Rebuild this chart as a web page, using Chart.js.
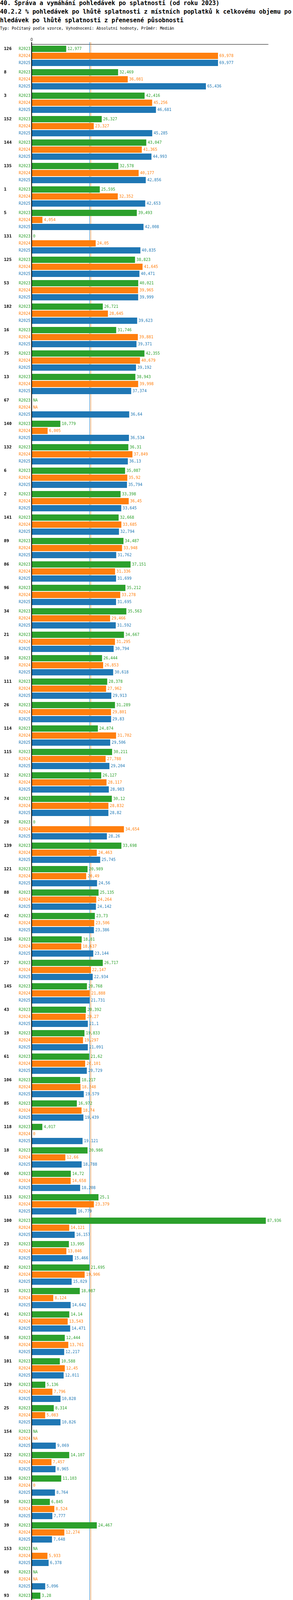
<!DOCTYPE html>
<html>
<head>
  <meta charset="utf-8">
  <title>40.2.2 Pohledávky po splatnosti</title>
  <script src="https://cdn.jsdelivr.net/npm/chart.js"></script>
  <style>
    body { margin: 0; width: 750px; height: 5334px; overflow: hidden; background: #fff;
           font-family: 'DejaVu Sans Mono', monospace; position: relative; }
    .t { position: absolute; left: 0; width: 750px; color: #000; }
    #title { top: -3px; font-size: 15.3px; line-height: 22px; word-break: break-all; font-weight: bold; }
    #sub { top: 67px; font-size: 10px; line-height: 12px; }
    #wrap { position: absolute; left: 0; top: 89px; }
    .lg { position: absolute; font-size: 10px; line-height: 12px; white-space: nowrap; }
  </style>
</head>
<body>
  <div id="title" class="t">
    <div>40. Správa a vymáhání pohledávek po splatnosti (od roku 2023)</div>
    <div>40.2.2 % pohledávek po lhůtě splatnosti z místních poplatků k celkovému objemu pohledávek po lhůtě splatnosti z přenesené působnosti</div>
  </div>
  <div id="sub" class="t">Typ: Počítaný podle vzorce, Vyhodnocení: Absolutní hodnoty, Průměr: Medián</div>
  <div id="wrap"><canvas id="chart" width="750" height="5126"></canvas></div>
  <div id="legend"></div>

  <script>
    const groups = ['126','8','3','152','144','135','1','5','131','125',
      '53','182','16','75','13','67','140','132','6','2',
      '141','89','86','96','34','21','10','111','26','114',
      '115','12','74','28','139','121','88','42','136','27',
      '145','43','19','61','106','85','118','18','60','113',
      '100','23','82','15','41','58','101','129','25','154',
      '122','138','50','39','153','69','93','155','7','68',
      '130','14','51','56','9','112','90','33','146','134',
      '151','76','52','84','147'];

    const r2023 = [12.977, 32.469, 42.416, 26.327, 43.047, 32.578, 25.595, 39.493, 0, 38.823,
      40.021, 26.721, 31.746, 42.355, 38.943, null, 10.779, 36.31, 35.087, 33.398,
      32.668, 34.487, 37.151, 35.212, 35.563, 34.667, 26.444, 28.378, 31.289, 24.874,
      30.211, 26.127, 30.12, 0, 33.698, 20.989, 25.135, 23.73, 18.81, 26.717,
      20.768, 20.392, 19.833, 21.62, 18.217, 16.972, 4.017, 20.986, 14.72, 25.1,
      87.936, 13.995, 21.695, 18.087, 14.14, 12.444, 10.588, 5.136, 8.314, null,
      14.107, 11.103, 6.845, 24.467, null, null, 3.28, null, 3.474, null,
      9.406, 3.011, 2.057, 3.037, 0.822, 0.015, 0.039, 51.153, 0, 0,
      12.383, 25.511, null, null, 0];

    const r2024 = [69.978, 36.081, 45.256, 23.327, 41.365, 40.177, 32.352, 4.054, 24.05, 41.645,
      39.965, 28.645, 39.881, 40.679, 39.998, null, 6.005, 37.849, 35.92, 36.45,
      33.685, 33.948, 31.336, 33.278, 29.466, 31.295, 26.853, 27.962, 29.801, 31.702,
      27.788, 28.117, 28.832, 34.654, 24.463, 20.49, 24.264, 23.506, 18.637, 22.147,
      21.888, 20.27, 19.297, 20.101, 18.348, 18.74, 0, 12.66, 14.658, 23.379,
      14.121, 13.046, 19.906, 8.124, 13.543, 13.761, 12.45, 7.796, 5.083, null,
      7.457, 0, 8.524, 12.274, 5.933, null, 1.093, null, 3.238, null,
      null, 2.371, 1.397, 2.389, null, 0.007, 0.117, 53.15, 0, 0,
      9.605, null, null, null, 25.579];

    const r2025 = [69.977, 65.436, 46.681, 45.285, 44.993, 42.856, 42.653, 42.008, 40.835, 40.471,
      39.999, 39.623, 39.371, 39.192, 37.374, 36.64, 36.534, 36.13, 35.794, 33.645,
      32.794, 31.762, 31.699, 31.695, 31.592, 30.794, 30.618, 29.913, 29.83, 29.506,
      29.204, 28.983, 28.82, 28.26, 25.745, 24.56, 24.142, 23.386, 23.144, 22.934,
      21.731, 21.1, 21.091, 20.729, 19.579, 19.439, 19.121, 18.788, 18.208, 16.779,
      16.157, 15.466, 15.029, 14.642, 14.471, 12.217, 12.011, 10.828, 10.826, 9.069,
      8.965, 8.764, 7.777, 7.648, 6.378, 5.096, 4.44, 3.433, 2.965, 2.915,
      2.064, 1.959, 1.846, 1.143, 0.935, 0.573, 0.107, 0, 0, 0,
      0, null, null, null, null];

    const seriesNames = ['R2023', 'R2024', 'R2025'];
    const seriesTitles = ['Realita - 2023', 'Realita - 2024', 'Realita - 2025'];
    const colors = ['#2ca02c', '#ff7f0e', '#1f77b4'];
    const medians = [21.695, 22.147, 21.731];
    const mins = [0, 0, 0];
    const maxs = [87.936, 69.978, 69.977];
    const xTicks = [0];
    const xMax = 88.75;

    const series = [r2023, r2024, r2025];

    function fmt(v) {
      if (v == null) return 'NA';
      return String(Number(v.toFixed(3))).replace('.', ',');
    }

    // median lines behind the bars, labels on top
    const decor = {
      id: 'decor',
      beforeDatasetsDraw(chart) {
        const { ctx, chartArea, scales: { x } } = chart;
        ctx.save();
        ctx.lineWidth = 1;
        medians.forEach((m, d) => {
          const px = Math.round(x.getPixelForValue(m)) + 0.5;
          ctx.strokeStyle = colors[d];
          ctx.beginPath();
          ctx.moveTo(px, chartArea.top - 5);
          ctx.lineTo(px, chartArea.bottom);
          ctx.stroke();
        });
        ctx.restore();
      },
      afterDatasetsDraw(chart) {
        const { ctx, scales: { x, y } } = chart;
        ctx.save();
        ctx.textBaseline = 'middle';
        ctx.font = '10px "DejaVu Sans Mono"';
        chart.data.datasets.forEach((ds, d) => {
          const meta = chart.getDatasetMeta(d);
          ctx.fillStyle = colors[d];
          meta.data.forEach((bar, i) => {
            const v = ds.data[i];
            ctx.textAlign = 'right';
            ctx.fillText(seriesNames[d], y.right - 3, bar.y);
            ctx.textAlign = 'left';
            ctx.fillText(fmt(v), x.getPixelForValue(v == null ? 0 : v) + 3.5, bar.y);
          });
        });
        const first = chart.getDatasetMeta(0);
        ctx.fillStyle = '#000';
        ctx.font = 'bold 11px "DejaVu Sans Mono"';
        ctx.textAlign = 'left';
        groups.forEach((g, i) => ctx.fillText(g, 10, first.data[i].y));
        ctx.restore();
      }
    };

    new Chart(document.getElementById('chart'), {
      type: 'bar',
      data: {
        labels: groups,
        datasets: series.map((vals, d) => ({
          label: seriesNames[d],
          data: vals,
          backgroundColor: colors[d],
          categoryPercentage: 0.9,
          barPercentage: 16 / 18
        }))
      },
      options: {
        indexAxis: 'y',
        responsive: false,
        animation: false,
        layout: { padding: { left: 0, right: 64, top: 0, bottom: 2 } },
        plugins: { legend: { display: false }, tooltip: { enabled: false } },
        scales: {
          x: {
            position: 'top',
            min: 0,
            max: xMax,
            afterBuildTicks: s => { s.ticks = xTicks.map(v => ({ value: v })); },
            afterFit: s => { s.height = 24; },
            grid: { drawOnChartArea: false, drawTicks: true, tickLength: 5, color: '#000', lineWidth: 2 },
            border: { color: '#000', width: 1 },
            ticks: { padding: 0, color: '#000', font: { size: 10 }, callback: v => fmt(v) }
          },
          y: {
            afterFit: s => { s.width = 81; },
            ticks: { display: false },
            grid: { display: false },
            border: { display: true, color: '#000', width: 2 }
          }
        }
      },
      plugins: [decor]
    });

    // legend and summary rows under the chart
    const legend = document.getElementById('legend');
    function addText(txt, left, centerY, color) {
      const el = document.createElement('div');
      el.className = 'lg';
      el.style.left = left + 'px';
      el.style.top = (centerY - 6) + 'px';
      el.style.color = color;
      el.textContent = txt;
      legend.appendChild(el);
    }
    addText('Období[' + seriesNames[0] + ']: ' + seriesTitles[0], 80, 5236, colors[0]);
    addText('Období[' + seriesNames[1] + ']: ' + seriesTitles[1], 381, 5236, colors[1]);
    addText('Období[' + seriesNames[2] + ']: ' + seriesTitles[2], 80, 5256, colors[2]);
    seriesNames.forEach((n, d) => {
      const cy = 5276 + d * 20;
      addText('Medián: ' + fmt(medians[d]), 80, cy, colors[d]);
      addText('Min: ' + fmt(mins[d]), 331, cy, colors[d]);
      addText('Max: ' + fmt(maxs[d]), 532, cy, colors[d]);
    });
  </script>
</body>
</html>
